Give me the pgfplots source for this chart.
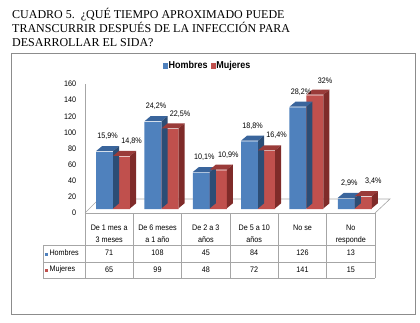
\documentclass[border=0pt]{standalone}
\usepackage{pgfplots}
\pgfplotsset{compat=1.18}
\usepackage{pgfplotstable}
\usepackage{fontspec}
\setmainfont{Liberation Serif}
\newfontfamily\narrow[FakeStretch=0.9]{Liberation Sans}
\definecolor{hblue}{HTML}{4F81BD}
\definecolor{htop}{HTML}{3A659C}
\definecolor{hside}{HTML}{2C4D75}
\definecolor{mred}{HTML}{C0504D}
\definecolor{mtop}{HTML}{9A3B39}
\definecolor{mside}{HTML}{7F2B29}
\definecolor{gridgray}{HTML}{A6A6A6}
\definecolor{framegray}{HTML}{8C8C8C}
\newcommand\tabfont{\narrow\fontsize{8}{9}\selectfont}
\pgfplotstableread{
x h m hl ml
0 71 65 15,9\% 14,8\%
1 108 99 24,2\% 22,5\%
2 45 48 10,1\% 10,9\%
3 84 72 18,8\% 16,4\%
4 126 141 28,2\% 32\%
5 13 15 2,9\% 3,4\%
}\data
% #1 top colour, #2 side colour, #3 x offset of the bar's right edge from the category centre
\newcommand\faces[3]{%
  \begingroup\pgfkeys{/pgf/fpu=true,/pgf/fpu/output format=fixed}%
  \pgfmathparse{\pgfplotspointmeta*0.80625}\global\let\hval\pgfmathresult\endgroup
  \coordinate (bt) at ([xshift=#3]\tikzlastnode.center);
  \fill[#1] ([xshift=-17pt]bt) -- (bt) -- ++(6pt,5pt) -- ++(-17pt,0pt) -- cycle;
  \fill[#2] (bt) -- ++(6pt,5pt) -- ++(0pt,-\hval pt) -- ++(-6pt,-5pt) -- cycle;}
\begin{document}
\begin{tikzpicture}[x=1pt,y=1pt]
\path[use as bounding box] (0,0) rectangle (420,322);
% title
\node[anchor=base west, inner sep=0pt, font=\fontsize{12}{14}\selectfont] at (12,303) {CUADRO 5.\ \ ¿QUÉ TIEMPO APROXIMADO PUEDE};
\node[anchor=base west, inner sep=0pt, font=\fontsize{12}{14}\selectfont] at (12,289) {TRANSCURRIR DESPUÉS DE LA INFECCIÓN PARA};
\node[anchor=base west, inner sep=0pt, font=\fontsize{12}{14}\selectfont] at (12,275) {DESARROLLAR EL SIDA?};
% frame
\draw[framegray, line width=0.8pt] (11,8) rectangle (415,269);
% floor and left wall line
\draw[gridgray, line width=0.6pt] (85,109) -- (99,123) -- (390,123) -- (375,109);
\draw[gridgray, line width=0.6pt] (85,44) -- (85,238);
% table grid
\draw[gridgray, line width=0.6pt] (85,109) -- (375,109);
\draw[gridgray, line width=0.6pt] (43,77) -- (375,77);
\draw[gridgray, line width=0.6pt] (43,60) -- (375,60);
\draw[gridgray, line width=0.6pt] (43,44) -- (375,44);
\draw[gridgray, line width=0.6pt] (43,77) -- (43,44);
\foreach \k in {1,...,6} {\draw[gridgray, line width=0.6pt] ({85+48.333*\k},109) -- ({85+48.333*\k},44);}
\foreach \a/\b [count=\i from 0] in {De 1 mes a/3 meses, De 6 meses/a 1 año, De 2 a 3/años, De 5 a 10/años, No se/, No/responde} {
  \node[anchor=base, inner sep=0pt, font=\tabfont] at ({85+48.333*(\i+0.5)},92) {\a};
  \node[anchor=base, inner sep=0pt, font=\tabfont] at ({85+48.333*(\i+0.5)},80) {\b};
}
\node[anchor=west, inner sep=0pt, font=\tabfont] at (45,69) {\textcolor{hblue}{\rule{3pt}{3pt}}\,Hombres};
\node[anchor=west, inner sep=0pt, font=\tabfont] at (45,52.5) {\textcolor{mred}{\rule{3pt}{3pt}}\,Mujeres};
\pgfplotstableforeachcolumnelement{h}\of\data\as\cell{%
  \node[font=\tabfont, inner sep=0pt] at ({85+48.333*(\pgfplotstablerow+0.5)},69) {\cell};}
\pgfplotstableforeachcolumnelement{m}\of\data\as\cell{%
  \node[font=\tabfont, inner sep=0pt] at ({85+48.333*(\pgfplotstablerow+0.5)},52.5) {\cell};}
\begin{axis}[
  at={(85pt,113pt)}, anchor=south west, scale only axis,
  width=290pt, height=129pt,
  xmin=-0.5, xmax=5.5, ymin=0, ymax=160,
  axis line style={draw=none},
  xtick=\empty, ytick={0,20,...,160},
  major tick length=0pt,
  yticklabel style={font=\narrow\fontsize{8}{9}\selectfont, xshift=-5.3pt, yshift=-4pt},
  /pgf/number format/assume math mode=true,
  clip=false,
  legend style={at={(0.421,1.109)}, anchor=center, draw=none, fill=none,
    font=\narrow\bfseries\fontsize{10}{12}\selectfont,
    /tikz/every even column/.append style={column sep=2pt},
    nodes={inner sep=1pt}},
  legend columns=2,
]
\addlegendimage{legend image code/.code={\fill[hblue] (0pt,-2.3pt) rectangle (4.5pt,2.3pt);}}
\addlegendentry{Hombres}
\addlegendimage{legend image code/.code={\fill[mred] (0pt,-2.3pt) rectangle (4.5pt,2.3pt);}}
\addlegendentry{Mujeres}
\addplot[forget plot, ybar, bar width=17pt, bar shift=-4.5pt, fill=hblue, draw=none,
  point meta=y, nodes near coords={},
  every node near coord/.append style={inner sep=0pt, append after command={\pgfextra{\faces{htop}{hside}{4pt}}}}]
  table[x=x,y=h]{\data};
\addplot[forget plot, ybar, bar width=17pt, bar shift=12.5pt, fill=mred, draw=none,
  point meta=y, nodes near coords={},
  every node near coord/.append style={inner sep=0pt, append after command={\pgfextra{\faces{mtop}{mside}{21pt}}}}]
  table[x=x,y=m]{\data};
\addplot[forget plot, draw=none, nodes near coords, point meta=explicit symbolic,
  every node near coord/.append style={font=\narrow\fontsize{8}{9}\selectfont, xshift=-1.5pt, yshift=8.5pt}]
  table[x=x,y=h,meta=hl]{\data};
\addplot[forget plot, draw=none, nodes near coords, point meta=explicit symbolic,
  every node near coord/.append style={font=\narrow\fontsize{8}{9}\selectfont, xshift=22.5pt, yshift=8.5pt}]
  table[x=x,y=m,meta=ml]{\data};
\end{axis}
\end{tikzpicture}
\end{document}
